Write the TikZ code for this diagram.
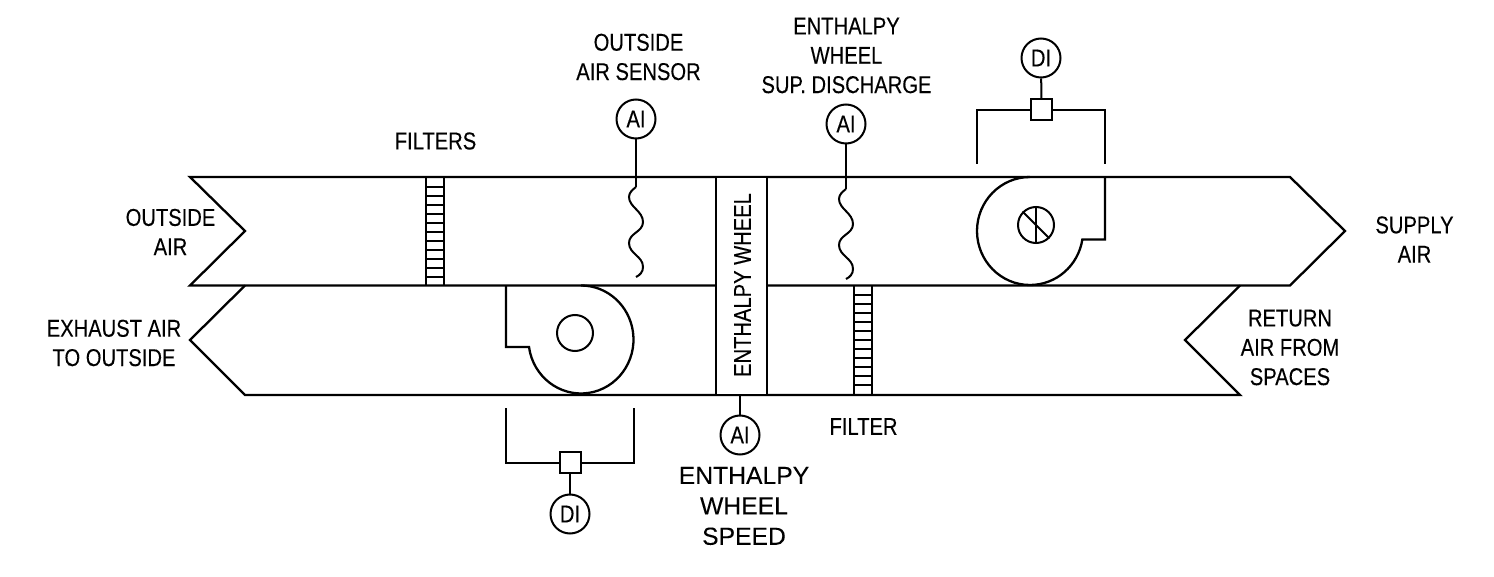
\documentclass[tikz,border=0pt]{standalone}
\usepackage{fontspec}
\setmainfont[FakeStretch=0.83,FakeBold=0.25]{Liberation Sans}
\newfontfamily\widefont[FakeBold=0.1]{Liberation Sans}
\newcommand{\lblsize}{\fontsize{24.3}{29.3}\selectfont}
\tikzset{
  x=1pt,y=-1pt,
  duct/.style={line width=2.3pt,line join=miter},
  rung/.style={line width=1.6pt},
  wire/.style={line width=2pt},
  instr/.style={draw,circle,line width=2pt,minimum size=39pt,inner sep=0pt,font=\lblsize,fill=white},
  relay/.style={draw,rectangle,line width=2pt,minimum size=21pt,inner sep=0pt,fill=white},
  lbl/.style={align=center,inner sep=0pt,font=\lblsize},
  widelbl/.style={align=center,inner sep=0pt,font=\widefont\fontsize{24.7}{30.4}\selectfont}
}
\begin{document}
\begin{tikzpicture}
\useasboundingbox (0,0) rectangle (1494,577);
% duct outline
\draw[duct] (190,177) -- (1290,177) -- (1345,231) -- (1290,285.5) -- (190,285.5) -- (245,231) -- cycle;
\draw[duct] (245,285.5) -- (190,340) -- (245,395) -- (1240,395) -- (1185,340) -- (1240,285.5);
% enthalpy wheel
\draw[duct,fill=white] (716,177) rectangle (767,395);
\node[lbl,rotate=90] (wheel) at (742.5,285) {ENTHALPY WHEEL};
% filters
\draw[duct] (426,177) -- (426,285.5) (444,177) -- (444,285.5);
\foreach \y in {187,196,205,214,223,232,241,250,259,268,277}
  \draw[rung] (426,\y) -- (444,\y);
\draw[duct] (854,285.5) -- (854,396) (872,285.5) -- (872,396);
\foreach \y in {295,304,313,322,331,340,349,358,367,376,385}
  \draw[rung] (854,\y) -- (872,\y);
% supply fan
\draw[duct] (1030,177) arc[start angle=-90,end angle=-351,x radius=53,y radius=54] -- (1105,239.5) -- (1105,177);
\node[draw,circle,line width=2pt,minimum size=36pt,inner sep=0pt] (sfan) at (1036,225) {};
\draw[wire] (sfan.north) -- (sfan.south);
\draw[wire] (sfan.north west) -- (sfan.south east);
% exhaust fan
\draw[duct] (506,285.5) -- (506,347) -- (529,347) arc[start angle=172,delta angle=-262,x radius=52.5,y radius=54];
\node[draw,circle,line width=2pt,minimum size=36pt,inner sep=0pt] (efan) at (575,333) {};
% sensors
\node[instr] (ai1) at (636,119) {AI};
\node[instr] (ai2) at (846,124) {AI};
\node[instr] (ai3) at (740,435) {AI};
\coordinate (w1) at (636,187);
\coordinate (w2) at (846,189);
\coordinate (wb) at (740,395);
\draw[wire] (ai1) -- (w1);
\draw[wire] (ai2) -- (w2);
\draw[wire] (wb) -- (ai3);
\foreach \c in {w1,w2}{
  \draw[wire,shift={(\c)}] (0,0) .. controls (-4,3) and (-7,6) .. (-7,10)
     .. controls (-7,20) and (7,24) .. (7,35)
     .. controls (7,45) and (-7,46) .. (-7,56)
     .. controls (-7,67) and (7,69) .. (7,80)
     .. controls (7,85) and (4,88) .. (0,90);
}
% top DI
\node[instr] (di1) at (1041,58) {DI};
\node[relay] (r1) at (1041.5,110) {};
\coordinate (t1l) at (977,164);
\coordinate (t1r) at (1105,164);
\draw[wire] (di1) -- (r1);
\draw[wire] (r1.west) -| (t1l);
\draw[wire] (r1.east) -| (t1r);
% bottom DI
\node[instr] (di2) at (570,514) {DI};
\node[relay] (r2) at (570,462.5) {};
\coordinate (t2l) at (506,408);
\coordinate (t2r) at (634,408);
\draw[wire] (di2) -- (r2);
\draw[wire] (r2.west) -| (t2l);
\draw[wire] (r2.east) -| (t2r);
% labels
\node[lbl] (lfilters) at (435.5,141) {FILTERS};
\node[lbl] (loas) at (638.5,57) {OUTSIDE\\AIR SENSOR};
\node[lbl] (lsd) at (846.5,55.5) {ENTHALPY\\WHEEL\\SUP. DISCHARGE};
\node[lbl] (loa) at (170.5,232) {OUTSIDE\\AIR};
\node[lbl] (lex) at (114,343) {EXHAUST AIR\\TO OUTSIDE};
\node[lbl] (lsa) at (1414.5,239.5) {SUPPLY\\AIR};
\node[lbl] (lra) at (1290,347.5) {RETURN\\AIR FROM\\SPACES};
\node[lbl] (lf) at (863.5,426.5) {FILTER};
\node[widelbl] (lws) at (744,506) {ENTHALPY\\WHEEL\\SPEED};
\end{tikzpicture}
\end{document}
